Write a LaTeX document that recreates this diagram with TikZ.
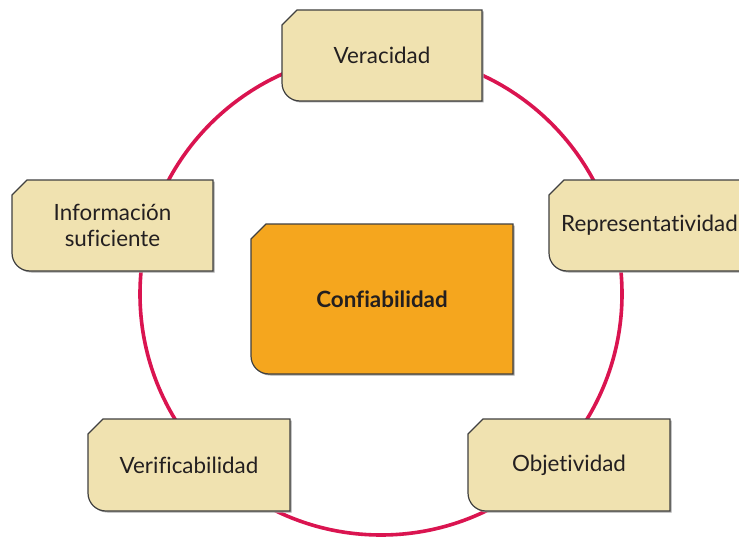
\documentclass[tikz,border=0pt]{standalone}
\usepackage{fontspec}
\setmainfont{Lato}[Ligatures=CommonOff]
\usepackage{xcolor}

\definecolor{carmin}{RGB}{218,20,80}
\definecolor{arena}{RGB}{240,226,176}
\definecolor{naranja}{RGB}{245,166,30}
\definecolor{tinta}{RGB}{35,31,32}

\tikzset{
	marco/.style={draw=black!75, line width=0.6pt},
	sombra/.style={fill=black!35},
	texto/.style={text=tinta, align=center, font=\fontsize{11.2}{13.2}\selectfont},
	aro/.style={draw=carmin, line width=1.8pt}
}

% name, left, top, right, bottom, fill, text
\newcommand{\tarjeta}[7]{%
	\fill[sombra] (#2+1.5,#3+16.5) -- (#2+16.5,#3+1.5) -- (#4+1.5,#3+1.5) -- (#4+1.5,#5+1.5) -- (#2+19.5,#5+1.5) .. controls (#2+9.5,#5+1.5) and (#2+1.5,#5-6.5) .. (#2+1.5,#5-16.5) -- cycle;
	\draw[marco, fill=#6] (#2,#3+15) -- (#2+15,#3) -- (#4,#3) -- (#4,#5) -- (#2+18,#5) .. controls (#2+8,#5) and (#2,#5-8) .. (#2,#5-18) -- cycle;
	\node[texto] (#1) at ({(#2+#4)/2},{(#3+#5)/2}) {#7};
}

\begin{document}
\begin{tikzpicture}[x=0.5pt, y=-0.5pt]
	\clip (0,0) rectangle (739,540);
	\fill[white] (0,0) rectangle (739,540);
	
	% ring behind the boxes
	\draw[aro] (381,294) circle (241);
	
	% outer boxes
	\tarjeta{veracidad}{282}{10}{482}{101}{arena}{Veracidad}
	\tarjeta{represent}{549}{180}{750}{271}{arena}{Representatividad}
	\tarjeta{objetiv}{468}{419}{670}{511}{arena}{Objetividad}
	\tarjeta{verific}{88}{419}{290}{511}{arena}{Verificabilidad}
	\tarjeta{informa}{12}{180}{213}{271}{arena}{Información\\suficiente}
	
	% center box
	\tarjeta{confia}{251}{224}{513}{374}{naranja}{\bfseries Confiabilidad}
\end{tikzpicture}
\end{document}
